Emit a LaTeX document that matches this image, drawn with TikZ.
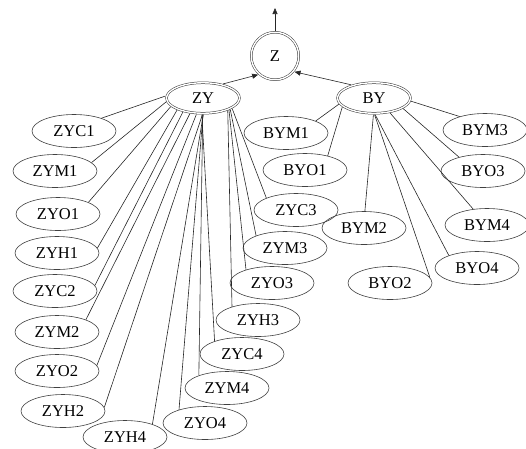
\documentclass[tikz,border=0pt]{standalone}
\usepackage{fontspec}
\setmainfont{Liberation Serif}
\usetikzlibrary{shapes.geometric,arrows.meta}
\begin{document}
\begin{tikzpicture}[x=1pt,y=-1pt,
  leaf/.style={ellipse,draw=black!75,line width=0.6pt,inner sep=0pt,minimum width=84pt,minimum height=33pt,font=\fontsize{16.5}{16.5}\selectfont},
  hub/.style={ellipse,draw=black!80,line width=0.5pt,double,double distance=1.4pt,outer sep=1.4pt,inner sep=0pt,minimum width=73pt,minimum height=30.5pt,font=\fontsize{16.5}{16.5}\selectfont},
  root/.style={circle,draw=black!80,line width=0.5pt,double,double distance=1.4pt,outer sep=1.4pt,inner sep=0pt,minimum size=47.5pt,font=\fontsize{16.5}{16.5}\selectfont},
  link/.style={draw=black!85,line width=0.6pt},
  arr/.style={link,-{Triangle[length=6pt,width=5pt]}}]
\useasboundingbox (0,0) rectangle (526,448);
\node[root] (z) at (275,56) {Z};
\node[hub] (zy) at (203,98) {ZY};
\node[hub] (by) at (374,98) {BY};
\coordinate (top) at (275,8);
% ZY children
\node[leaf] (zyc1) at (74,131) {ZYC1};
\node[leaf] (zym1) at (55,171) {ZYM1};
\node[leaf] (zyo1) at (58,214) {ZYO1};
\node[leaf] (zyh1) at (57,253) {ZYH1};
\node[leaf] (zyc2) at (55,291) {ZYC2};
\node[leaf] (zym2) at (57,332) {ZYM2};
\node[leaf] (zyo2) at (57,371) {ZYO2};
\node[leaf] (zyh2) at (63,411) {ZYH2};
\node[leaf] (zyh4) at (125,437) {ZYH4};
\node[leaf] (zyo4) at (205,423) {ZYO4};
\node[leaf] (zym4) at (227,388) {ZYM4};
\node[leaf] (zyc4) at (242,354) {ZYC4};
\node[leaf] (zyh3) at (258,320) {ZYH3};
\node[leaf] (zyo3) at (272,283) {ZYO3};
\node[leaf] (zym3) at (285,248) {ZYM3};
\node[leaf] (zyc3) at (296,210) {ZYC3};
% BY children
\node[leaf] (bym1) at (286,133) {BYM1};
\node[leaf] (byo1) at (305,170) {BYO1};
\node[leaf] (bym2) at (364,228) {BYM2};
\node[leaf] (byo2) at (390,283) {BYO2};
\node[leaf] (bym3) at (485,130) {BYM3};
\node[leaf] (byo3) at (483,171) {BYO3};
\node[leaf] (bym4) at (487,225) {BYM4};
\node[leaf] (byo4) at (477,268) {BYO4};
% arrows
\draw[arr] (z.north) -- (top);
\draw[arr] (zy.35) -- (z.228);
\draw[arr] (by.150) -- (z.321);
% ZY edges
\draw[link] (zy.177) -- (zyc1.25);
\draw[link] (zy.186) -- (zym1.13);
\draw[link] (zy.195) -- (zyo1.21);
\draw[link] (zy.205) -- (zyh1.7);
\draw[link] (zy.215) -- (zyc2.8);
\draw[link] (zy.230) -- (zym2.23);
\draw[link] (zy.248) -- (zyo2.8);
\draw[link] (zy.268) -- (zyh2.5);
\draw[link] (zy.271) -- (zyh4.25);
\draw[link] (zy.270) -- (zyo4.153);
\draw[link] (zy.269) -- (zym4.156);
\draw[link] (zy.266) -- (zyc4.155);
\draw[link] (zy.333) -- (zyh3.153);
\draw[link] (zy.335) -- (zyo3.153);
\draw[link] (zy.337) -- (zym3.157);
\draw[link] (zy.340) -- (zyc3.158);
% BY edges
\draw[link] (by.190) -- (bym1.22);
\draw[link] (by.196) -- (byo1.32);
\draw[link] (by.268) -- (bym2.87);
\draw[link] (by.272) -- (byo2.8);
\draw[link] (by.274) -- (byo4.156);
\draw[link] (by.317) -- (bym4.131);
\draw[link] (by.340) -- (byo3.150);
\draw[link] (by.355) -- (bym3.152);
\end{tikzpicture}
\end{document}
